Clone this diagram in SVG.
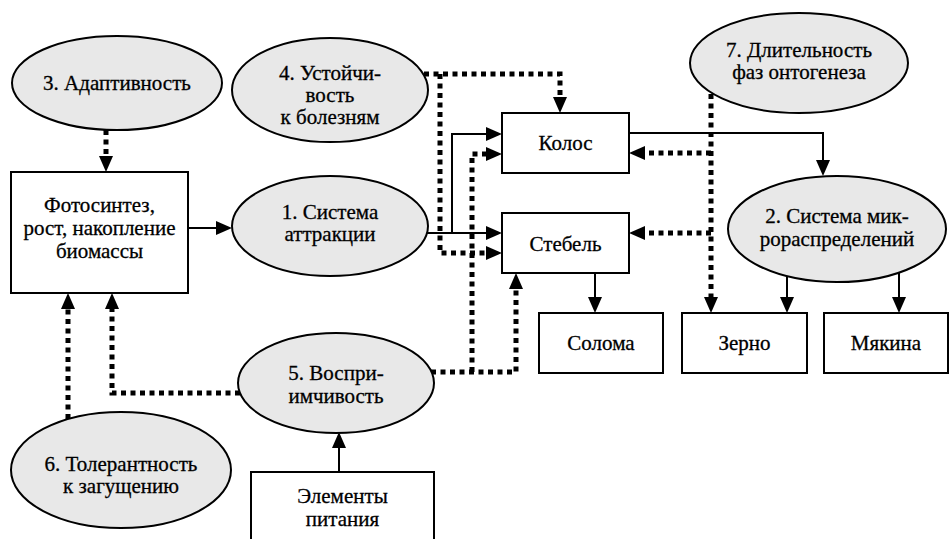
<svg xmlns="http://www.w3.org/2000/svg" width="951" height="539" viewBox="0 0 951 539">
<defs>
<marker id="ah" markerUnits="userSpaceOnUse" markerWidth="16" markerHeight="14" refX="0" refY="7" orient="auto" viewBox="0 0 16 14"><path d="M0,0 L16,7 L0,14 z" fill="#000"/></marker>
<style>
.el{fill:#e8e8e8;stroke:#000;stroke-width:2}
.bx{fill:#fff;stroke:#000;stroke-width:2}
.t{font-family:"Liberation Serif","Times New Roman",serif;font-size:21px;fill:#000;stroke:#000;stroke-width:0.3;text-anchor:middle}
.s{fill:none;stroke:#000;stroke-width:2;marker-end:url(#ah)}
.d{fill:none;stroke:#000;stroke-width:5;stroke-dasharray:5 4.5;marker-end:url(#ah)}
</style>
</defs>
<rect width="951" height="539" fill="#fff"/>
<g id="connectors">
<path class="d" d="M106,130 V156"/>
<path class="s" d="M188,228 H216"/>
<path class="s" d="M427,233 H486"/>
<path class="s" d="M452,233 V134 H486"/>
<path class="d" d="M424,74 H560 V97"/>
<path class="d" d="M440,74 V253 H486"/>
<path class="d" d="M431,372 H516 V289"/>
<path class="d" d="M472,372 V154 H486"/>
<path class="d" d="M240,393 H112 V309"/>
<path class="d" d="M68,419 V309"/>
<path class="s" d="M339,472 V448"/>
<path class="s" d="M629,133 H823 V160"/>
<path class="d" d="M711,94 V297"/>
<path class="d" d="M711,153 H645"/>
<path class="d" d="M711,233 H645"/>
<path class="s" d="M595,273 V297"/>
<path class="s" d="M787,276 V297"/>
<path class="s" d="M899,272 V297"/>
</g>
<g id="n3"><ellipse class="el" cx="117" cy="83" rx="105" ry="47"/><text class="t" x="117" y="90">3. Адаптивность</text></g>
<g id="n4"><ellipse class="el" cx="330" cy="90" rx="98" ry="52"/><text class="t" x="330" y="80">4. Устойчи-</text><text class="t" x="330" y="102">вость</text><text class="t" x="330" y="124">к болезням</text></g>
<g id="foto"><rect class="bx" x="11" y="172" width="177" height="121"/><text class="t" x="99.5" y="212">Фотосинтез,</text><text class="t" x="99.5" y="235">рост, накопление</text><text class="t" x="99.5" y="258">биомассы</text></g>
<g id="n1"><ellipse class="el" cx="330" cy="226" rx="98" ry="50"/><text class="t" x="330" y="219">1. Система</text><text class="t" x="330" y="241">аттракции</text></g>
<g id="kolos"><rect class="bx" x="502" y="113" width="127" height="60"/><text class="t" x="565.5" y="150">Колос</text></g>
<g id="stebel"><rect class="bx" x="502" y="213" width="127" height="60"/><text class="t" x="565.5" y="251">Стебель</text></g>
<g id="n7"><ellipse class="el" cx="799" cy="63" rx="109" ry="50"/><text class="t" x="799" y="57">7. Длительность</text><text class="t" x="799" y="79">фаз онтогенеза</text></g>
<g id="n2"><ellipse class="el" cx="837" cy="229" rx="109" ry="53"/><text class="t" x="837" y="223">2. Система мик-</text><text class="t" x="837" y="246">рораспределений</text></g>
<g id="soloma"><rect class="bx" x="539" y="313" width="124" height="60"/><text class="t" x="601" y="350">Солома</text></g>
<g id="zerno"><rect class="bx" x="682" y="313" width="125" height="60"/><text class="t" x="744.5" y="350">Зерно</text></g>
<g id="myakina"><rect class="bx" x="824" y="313" width="124" height="60"/><text class="t" x="886" y="350">Мякина</text></g>
<g id="n5"><ellipse class="el" cx="336" cy="383" rx="98" ry="50"/><text class="t" x="336" y="380">5. Воспри-</text><text class="t" x="336" y="403">имчивость</text></g>
<g id="n6"><ellipse class="el" cx="121" cy="470" rx="110" ry="58"/><text class="t" x="121" y="471">6. Толерантность</text><text class="t" x="121" y="493">к загущению</text></g>
<g id="elem"><rect class="bx" x="251" y="472" width="183" height="90"/><text class="t" x="342.5" y="503">Элементы</text><text class="t" x="342.5" y="526">питания</text></g>
</svg>
